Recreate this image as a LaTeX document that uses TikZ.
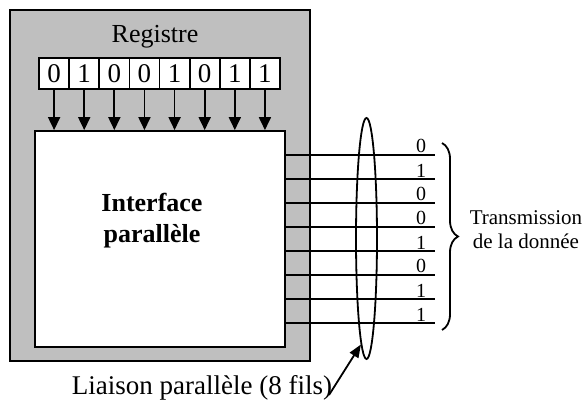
\documentclass[tikz,border=0pt]{standalone}
\usepackage{fontspec}
\setmainfont{Liberation Serif}
\usetikzlibrary{shapes.geometric, arrows.meta, decorations.pathreplacing}

\tikzstyle{cell} = [rectangle, minimum width=15.06pt, minimum height=15.5pt, inner sep=0pt, text centered, draw=black, fill=white, font=\fontsize{13.5}{15}\selectfont]
\tikzstyle{iface} = [rectangle, minimum width=125pt, minimum height=108pt, draw=black, fill=white]
\tikzstyle{bit} = [anchor=south, inner sep=0.5pt, font=\fontsize{10}{11}\selectfont]
\tikzstyle{arrow} = [-{Triangle[width=6pt,length=6.5pt]}]
\tikzstyle{brace} = [decorate, decoration={brace, amplitude=8pt}]

\begin{document}
\begin{tikzpicture}[x=0.5pt, y=-0.5pt, line width=0.9pt, node distance=15.06pt]
\useasboundingbox (0,0) rectangle (584,405);

% Boitier gris et interface
\draw [fill=black!25] (10,10) rectangle (310,361);
\node (iface) [iface] at (160,239) {};
\node (titre) [align=center, font=\fontsize{13}{15.5}\selectfont\bfseries] at (152,221) {Interface\\parallèle};

% Registre
\node (reg) [font=\fontsize{13}{15}\selectfont] at (155,37) {Registre};
\node (b1) [cell] at (54.1,73.5) {0};
\node (b2) [cell, right of=b1] {1};
\node (b3) [cell, right of=b2] {0};
\node (b4) [cell, right of=b3] {0};
\node (b5) [cell, right of=b4] {1};
\node (b6) [cell, right of=b5] {0};
\node (b7) [cell, right of=b6] {1};
\node (b8) [cell, right of=b7] {1};

% Fleches du registre vers l'interface
\draw [arrow] (b1.south) -- (b1.south |- iface.north);
\draw [arrow] (b2.south) -- (b2.south |- iface.north);
\draw [arrow] (b3.south) -- (b3.south |- iface.north);
\draw [arrow] (b4.south) -- (b4.south |- iface.north);
\draw [arrow] (b5.south) -- (b5.south |- iface.north);
\draw [arrow] (b6.south) -- (b6.south |- iface.north);
\draw [arrow] (b7.south) -- (b7.south |- iface.north);
\draw [arrow] (b8.south) -- (b8.south |- iface.north);

% Les 8 fils
\coordinate (w1) at (435,155);
\coordinate (w2) at (435,179);
\coordinate (w3) at (435,203);
\coordinate (w4) at (435,227);
\coordinate (w5) at (435,251);
\coordinate (w6) at (435,275);
\coordinate (w7) at (435,299);
\coordinate (w8) at (435,323);
\draw (iface.east |- w1) -- (w1);
\draw (iface.east |- w2) -- (w2);
\draw (iface.east |- w3) -- (w3);
\draw (iface.east |- w4) -- (w4);
\draw (iface.east |- w5) -- (w5);
\draw (iface.east |- w6) -- (w6);
\draw (iface.east |- w7) -- (w7);
\draw (iface.east |- w8) -- (w8);
\node (d1) [bit] at ([xshift=-7pt]w1) {0};
\node (d2) [bit] at ([xshift=-7pt]w2) {1};
\node (d3) [bit] at ([xshift=-7pt]w3) {0};
\node (d4) [bit] at ([xshift=-7pt]w4) {0};
\node (d5) [bit] at ([xshift=-7pt]w5) {1};
\node (d6) [bit] at ([xshift=-7pt]w6) {0};
\node (d7) [bit] at ([xshift=-7pt]w7) {1};
\node (d8) [bit] at ([xshift=-7pt]w8) {1};

% Liaison et accolade
\node (link) [ellipse, draw, minimum width=10.5pt, minimum height=120.5pt, inner sep=0pt] at (366.5,238.5) {};
\draw [brace] (442,143) -- (442,330);
\node (trans) [align=center, font=\fontsize{10.5}{12}\selectfont] at (526,230) {Transmission\\de la donnée};
\node (note) [anchor=base east, inner sep=0pt, font=\fontsize{13.5}{16}\selectfont] at (333,395) {Liaison parallèle (8 fils)};
\draw [-{Triangle[width=5pt,length=6.5pt]}] ([xshift=-2pt]note.base east) -- (link.267);

\end{tikzpicture}
\end{document}
